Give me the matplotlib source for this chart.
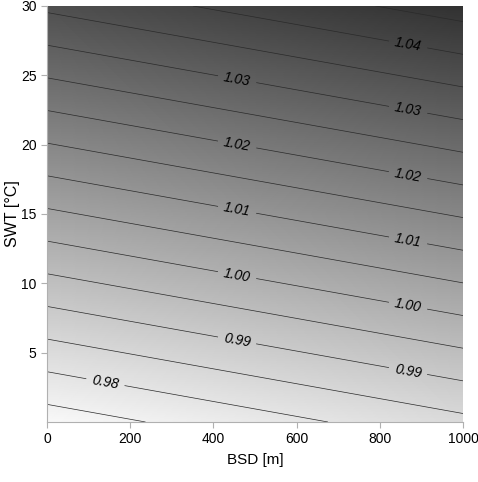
import numpy as np
import matplotlib.pyplot as plt
from matplotlib.colors import LinearSegmentedColormap

plt.rcParams['font.family'] = ['Liberation Sans', 'DejaVu Sans']
plt.rcParams['font.size'] = 10

# corner values of the (planar) surface
bsd = [0, 1000]          # m
swt = [0, 30]            # degC
val = [[0.9723, 0.9837],  # swt = 0
       [1.0360, 1.0474]]  # swt = 30

plain_levels = [0.975, 0.985, 0.995, 1.005, 1.015, 1.025, 1.035, 1.045]
label_levels = [0.98, 0.99, 1.00, 1.01, 1.02, 1.03, 1.04]

# where the labels sit (x in m, y in degC)
label_pos = [(140, 2.8),
             (457, 5.9), (457, 10.6), (457, 15.3), (457, 20.0), (457, 24.7),
             (868, 3.7), (868, 8.4), (868, 13.1), (868, 17.8), (868, 22.5),
             (868, 27.2)]

X, Y = np.meshgrid(bsd, swt)
Z = np.array(val)

cmap = LinearSegmentedColormap.from_list('grey', ['#f9f9f9', '#313131'])

fig = plt.figure(figsize=(4.78, 4.82), dpi=100)
ax = fig.add_axes([0.0983, 0.1245, 0.8703, 0.8631])

ax.pcolormesh(X, Y, Z, shading='gouraud', cmap=cmap, vmin=0.9723, vmax=1.0474)
ax.contour(X, Y, Z, levels=plain_levels, colors='#2a2a2a', linewidths=0.5)
cs = ax.contour(X, Y, Z, levels=label_levels, colors='#2a2a2a', linewidths=0.5)
lbls = ax.clabel(cs, fmt='%.2f', fontsize=10, manual=label_pos,
                 inline_spacing=6)
for t in lbls:
    t.set_fontstyle('italic')
    t.set_color('black')

ax.set_xlim(0, 1000)
ax.set_ylim(0, 30)
ax.set_xticks([0, 200, 400, 600, 800, 1000])
ax.set_yticks([5, 10, 15, 20, 25, 30])
ax.set_xlabel('BSD [m]', fontsize=11, labelpad=5)
ax.set_ylabel('SWT [°C]', fontsize=11.5, labelpad=1)

for s in ['top', 'right']:
    ax.spines[s].set_visible(False)
for s in ['left', 'bottom']:
    ax.spines[s].set_color('#b0b0b0')
    ax.spines[s].set_linewidth(0.8)
ax.tick_params(colors='#b0b0b0', labelcolor='black', length=4, width=0.8,
               labelsize=10)

plt.savefig('out.png')
plt.close()
